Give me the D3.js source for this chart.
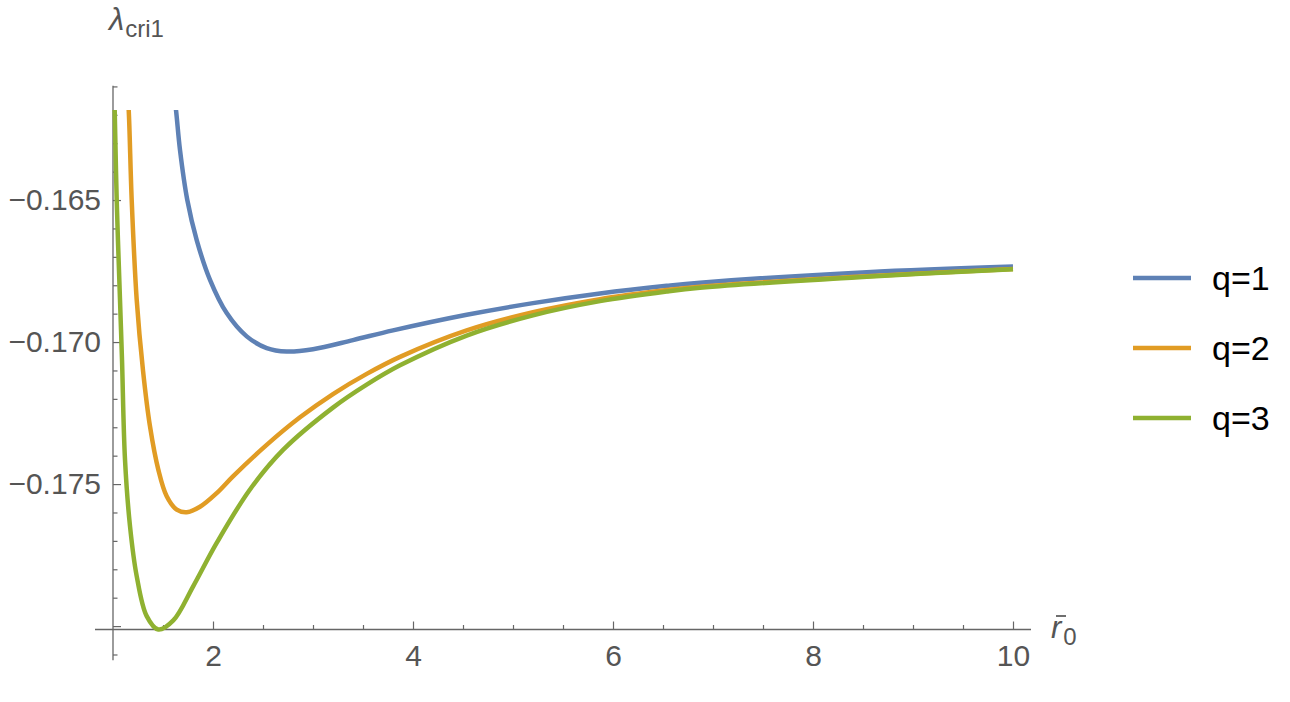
<!DOCTYPE html>
<html>
<head>
<meta charset="utf-8">
<script src="https://cdn.jsdelivr.net/npm/d3@7"></script>
<style>
  body { margin: 0; background: #fff; }
  text { font-family: "Liberation Sans", Arial, sans-serif; }
</style>
</head>
<body>
<svg id="chart" width="1290" height="702"></svg>
<script>
// series
const seriesNames = ['q=1', 'q=2', 'q=3'];
const seriesColors = ['#5E81B5', '#E19C24', '#8FB131'];

const q1X = [1.60, 1.63, 1.67, 1.743, 1.837, 1.97, 2.137, 2.337, 2.537, 2.737, 3.0, 3.4, 3.8, 4.537, 5.2, 5.87, 6.537, 6.87, 8.537, 10];
const q1Y = [-0.1610, -0.16183, -0.16324, -0.1650, -0.16641, -0.16781, -0.16898, -0.16980, -0.17021, -0.17033, -0.17025, -0.16993, -0.16959, -0.16904, -0.16863, -0.16829, -0.16802, -0.16791, -0.16754, -0.16734];

const q2X = [1.14, 1.157, 1.187, 1.237, 1.30, 1.37, 1.453, 1.537, 1.637, 1.737, 1.87, 2.037, 2.2, 2.537, 2.87, 3.2, 3.537, 3.87, 4.537, 5.2, 5.87, 6.537, 6.87, 8.537, 10];
const q2Y = [-0.1610, -0.16183, -0.1650, -0.16851, -0.17100, -0.17297, -0.17449, -0.17543, -0.17590, -0.17599, -0.17580, -0.17532, -0.17473, -0.17362, -0.17265, -0.17183, -0.17112, -0.17052, -0.16959, -0.16895, -0.16849, -0.16817, -0.16805, -0.16768, -0.16743];

const q3X = [1.01, 1.017, 1.037, 1.07, 1.09, 1.12, 1.17, 1.237, 1.337, 1.453, 1.603, 1.803, 2.037, 2.37, 2.703, 3.203, 3.537, 3.87, 4.537, 5.2, 5.87, 6.537, 6.87, 8.537, 10];
const q3Y = [-0.1610, -0.16183, -0.1650, -0.16851, -0.17062, -0.17414, -0.17648, -0.17824, -0.17965, -0.18012, -0.17980, -0.17859, -0.17707, -0.17519, -0.17379, -0.17230, -0.17150, -0.17082, -0.16977, -0.16906, -0.16856, -0.16822, -0.16809, -0.16770, -0.16744];

const xMajorTicks = [2, 4, 6, 8, 10];
const xMinorTicks = [1.5, 2.5, 3, 3.5, 4.5, 5, 5.5, 6.5, 7, 7.5, 8.5, 9, 9.5];
const yLabelTicks = [-0.175, -0.170, -0.165];
const yMajorTicks = [-0.180, -0.175, -0.170, -0.165];
const yMinorTicks = [-0.181, -0.179, -0.178, -0.177, -0.176, -0.174, -0.173, -0.172, -0.171,
                     -0.169, -0.168, -0.167, -0.166, -0.164, -0.163, -0.162, -0.161];

// plot range and how far the axis lines run past it
const xDomain = [1, 10];
const yDomain = [-0.18012, -0.16183];
const xAxisSpan = [0.82, 10.18];
const yAxisSpan = [-0.1812, -0.16098];

const svg = d3.select('#chart');
const axisColor = '#666';
const labelColor = '#555';

const x = d3.scaleLinear().domain(xDomain).range([113, 1013]);
const y = d3.scaleLinear().domain(yDomain).range([629.5, 110]);

svg.append('defs').append('clipPath').attr('id', 'plotClip')
  .append('rect')
  .attr('x', x(xDomain[0]) - 6)
  .attr('y', y(yDomain[1]))
  .attr('width', x(xDomain[1]) - x(xDomain[0]) + 12)
  .attr('height', 702 - y(yDomain[1]));

// axis lines
svg.append('line')
  .attr('x1', x(xAxisSpan[0])).attr('x2', x(xAxisSpan[1]))
  .attr('y1', y(yDomain[0])).attr('y2', y(yDomain[0]))
  .attr('stroke', axisColor).attr('stroke-width', 1.3);
svg.append('line')
  .attr('x1', x(xDomain[0])).attr('x2', x(xDomain[0]))
  .attr('y1', y(yAxisSpan[0])).attr('y2', y(yAxisSpan[1]))
  .attr('stroke', axisColor).attr('stroke-width', 1.3);

function styleAxis(g) {
  g.select('.domain').remove();
  g.selectAll('line').attr('stroke', axisColor).attr('stroke-width', 1.2);
  g.selectAll('text').attr('fill', labelColor)
    .style('font-family', '"Liberation Sans", Arial, sans-serif')
    .style('font-size', '30px');
}

// x ticks point up into the plot
svg.append('g').attr('transform', `translate(0,${y(yDomain[0])})`)
  .call(d3.axisTop(x).tickValues(xMinorTicks).tickSize(4.5).tickFormat(''))
  .call(styleAxis);
svg.append('g').attr('transform', `translate(0,${y(yDomain[0])})`)
  .call(d3.axisTop(x).tickValues(xMajorTicks).tickSize(8).tickFormat(''))
  .call(styleAxis);
svg.append('g').attr('transform', `translate(0,${y(yDomain[0])})`)
  .call(d3.axisBottom(x).tickValues(xMajorTicks).tickSize(0).tickPadding(15).tickFormat(d3.format('d')))
  .call(styleAxis);

// y ticks point right
svg.append('g').attr('transform', `translate(${x(xDomain[0])},0)`)
  .call(d3.axisRight(y).tickValues(yMinorTicks).tickSize(4.5).tickFormat(''))
  .call(styleAxis);
svg.append('g').attr('transform', `translate(${x(xDomain[0])},0)`)
  .call(d3.axisRight(y).tickValues(yMajorTicks).tickSize(8).tickFormat(''))
  .call(styleAxis);
svg.append('g').attr('transform', `translate(${x(xDomain[0])},0)`)
  .call(d3.axisLeft(y).tickValues(yLabelTicks).tickSize(0).tickPadding(12).tickFormat(d3.format('.3f')))
  .call(styleAxis);

// axis labels
const yLab = svg.append('text').attr('x', 109).attr('y', 30).attr('fill', labelColor);
yLab.append('tspan').text('λ').style('font-size', '31px').style('font-style', 'italic');
yLab.append('tspan').text('cri1').attr('dx', 1).attr('dy', 7).style('font-size', '24px');

const xLab = svg.append('text').attr('x', 1051).attr('y', 638).attr('fill', labelColor);
xLab.append('tspan').text('r').style('font-size', '31px').style('font-style', 'italic');
xLab.append('tspan').text('0').attr('dx', 2).attr('dy', 7).style('font-size', '24px');
svg.append('line')
  .attr('x1', 1056).attr('x2', 1066).attr('y1', 616).attr('y2', 616)
  .attr('stroke', labelColor).attr('stroke-width', 1.7);

// curves
const series = [
  { name: seriesNames[0], color: seriesColors[0], xs: q1X, ys: q1Y },
  { name: seriesNames[1], color: seriesColors[1], xs: q2X, ys: q2Y },
  { name: seriesNames[2], color: seriesColors[2], xs: q3X, ys: q3Y }
];

const line = d3.line()
  .x(d => x(d[0]))
  .y(d => y(d[1]))
  .curve(d3.curveCatmullRom.alpha(0.5));

svg.append('g').attr('clip-path', 'url(#plotClip)')
  .selectAll('path')
  .data(series)
  .enter()
  .append('path')
  .attr('fill', 'none')
  .attr('stroke', d => d.color)
  .attr('stroke-width', 4.5)
  .attr('d', d => line(d.xs.map((v, i) => [v, d.ys[i]])));

// legend
const legend = svg.append('g').attr('transform', 'translate(1133,278)');
const items = legend.selectAll('g')
  .data(series)
  .enter()
  .append('g')
  .attr('transform', (d, i) => `translate(0,${i * 70})`);
items.append('line')
  .attr('x1', 0).attr('x2', 58)
  .attr('stroke', d => d.color)
  .attr('stroke-width', 4.5);
items.append('text')
  .attr('x', 79).attr('y', 12)
  .attr('fill', '#000')
  .style('font-size', '34px')
  .text(d => d.name);
</script>
</body>
</html>
